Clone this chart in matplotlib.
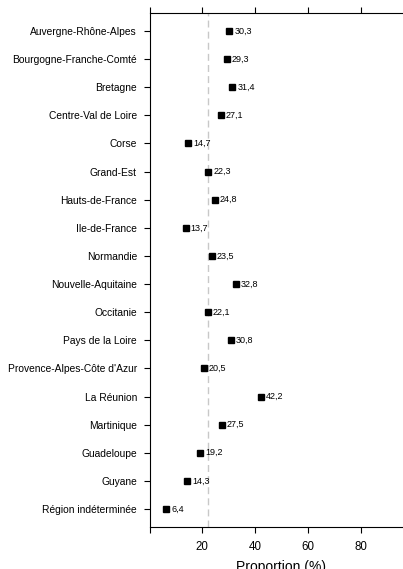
import matplotlib.pyplot as plt
import numpy as np

regions = ["Auvergne-Rhône-Alpes", "Bourgogne-Franche-Comté", "Bretagne",
           "Centre-Val de Loire", "Corse", "Grand-Est", "Hauts-de-France",
           "Ile-de-France", "Normandie", "Nouvelle-Aquitaine", "Occitanie",
           "Pays de la Loire", "Provence-Alpes-Côte d'Azur", "La Réunion",
           "Martinique", "Guadeloupe", "Guyane", "Région indéterminée"]
values = [30.3, 29.3, 31.4, 27.1, 14.7, 22.3, 24.8, 13.7, 23.5, 32.8,
          22.1, 30.8, 20.5, 42.2, 27.5, 19.2, 14.3, 6.4]
mean_value = 22.3
xticks = [0, 20, 40, 60, 80]
xticklabels = ["", "20", "40", "60", "80"]

plt.rcParams['font.family'] = ['Liberation Sans', 'DejaVu Sans']

fig = plt.figure(figsize=(4.03, 5.69), dpi=100)
W, H = 403, 569
ax = fig.add_axes([149.5 / W, 42 / H, 264 / W, (527 - 13) / H])

n = len(regions)
y = np.arange(n, 0, -1)
ax.axvline(mean_value, color="#c8c8c8", linestyle=(0, (5, 3)), linewidth=1, zorder=1)
ax.plot(values, y, linestyle="none", marker="s", color="black", markersize=4, zorder=3)
for v, yy in zip(values, y):
    ax.annotate(f"{v:.1f}".replace(".", ","), (v, yy), xytext=(3.5, 0),
                textcoords="offset points", va="center", ha="left", fontsize=6.5)

ax.set_xlim(0, 100)
ax.set_ylim(0.36, n + 0.64)
ax.set_yticks(y)
ax.set_yticklabels(regions, fontsize=7.4)
ax.set_xticks(xticks)
ax.set_xticklabels(xticklabels, fontsize=8.3)
ax.tick_params(axis="x", top=True, direction="out", length=4, width=0.8, pad=6)
ax.tick_params(axis="y", direction="out", length=4, width=0.8, pad=5)
ax.spines["right"].set_visible(False)
for s in ["left", "top", "bottom"]:
    ax.spines[s].set_linewidth(0.8)
ax.set_xlabel("Proportion (%)", fontsize=10, labelpad=5)

fig.savefig("out.png", dpi=100)
